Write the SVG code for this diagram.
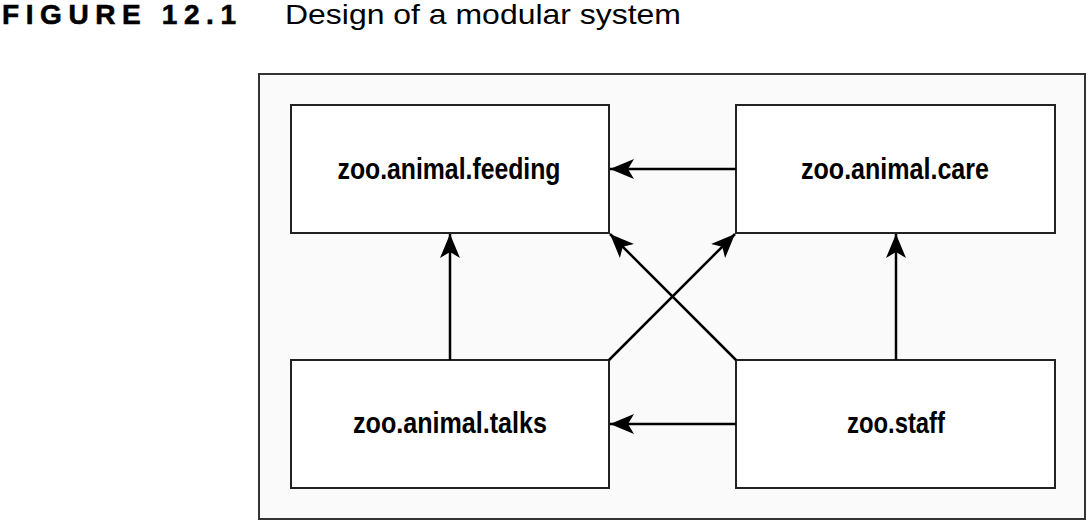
<svg xmlns="http://www.w3.org/2000/svg" width="1092" height="522" viewBox="0 0 1092 522">
<style>
.title{font-family:"Liberation Sans",Arial,sans-serif;font-size:28px;fill:#000}
.node rect{fill:#fff;stroke:#222;stroke-width:2}
.node text{font-family:"Liberation Sans Narrow","Liberation Sans",Arial,sans-serif;font-weight:bold;font-size:30px;fill:#000;text-anchor:middle}
.conn line{stroke:#000;stroke-width:2.5;marker-end:url(#ah)}
</style>
<defs>
<marker id="ah" viewBox="0 0 24 20" refX="24" refY="10" markerWidth="24" markerHeight="20" markerUnits="userSpaceOnUse" orient="auto">
<path d="M0,0 L24,10 L0,20 L6,10 Z" fill="#000"/>
</marker>
</defs>
<rect width="1092" height="522" fill="#fff"/>
<text class="title" x="2" y="24" font-size="29" font-weight="900" stroke="#000" stroke-width="0.6" letter-spacing="4" textLength="238" lengthAdjust="spacing">FIGURE 12.1</text>
<text class="title" x="285" y="24" textLength="396" lengthAdjust="spacingAndGlyphs">Design of a modular system</text>
<rect id="frame" x="259" y="74" width="826" height="445" fill="#fafafa" stroke="#333" stroke-width="2"/>
<g id="feeding" class="node"><rect x="291" y="105" width="318" height="128"/><text x="449" y="179" textLength="223" lengthAdjust="spacingAndGlyphs">zoo.animal.feeding</text></g>
<g id="care" class="node"><rect x="736" y="105" width="319" height="128"/><text x="895" y="179" textLength="188" lengthAdjust="spacingAndGlyphs">zoo.animal.care</text></g>
<g id="talks" class="node"><rect x="291" y="360" width="318" height="128"/><text x="450" y="433" textLength="194" lengthAdjust="spacingAndGlyphs">zoo.animal.talks</text></g>
<g id="staff" class="node"><rect x="736" y="360" width="319" height="128"/><text x="896" y="433" textLength="98" lengthAdjust="spacingAndGlyphs">zoo.staff</text></g>
<g id="connectors" class="conn">
<line x1="736" y1="169" x2="610" y2="169"/>
<line x1="450" y1="360" x2="450" y2="234"/>
<line x1="896" y1="360" x2="896" y2="234"/>
<line x1="736" y1="424" x2="610" y2="424"/>
<line x1="736" y1="360" x2="610" y2="234"/>
<line x1="609" y1="360" x2="735" y2="234"/>
</g>
</svg>
